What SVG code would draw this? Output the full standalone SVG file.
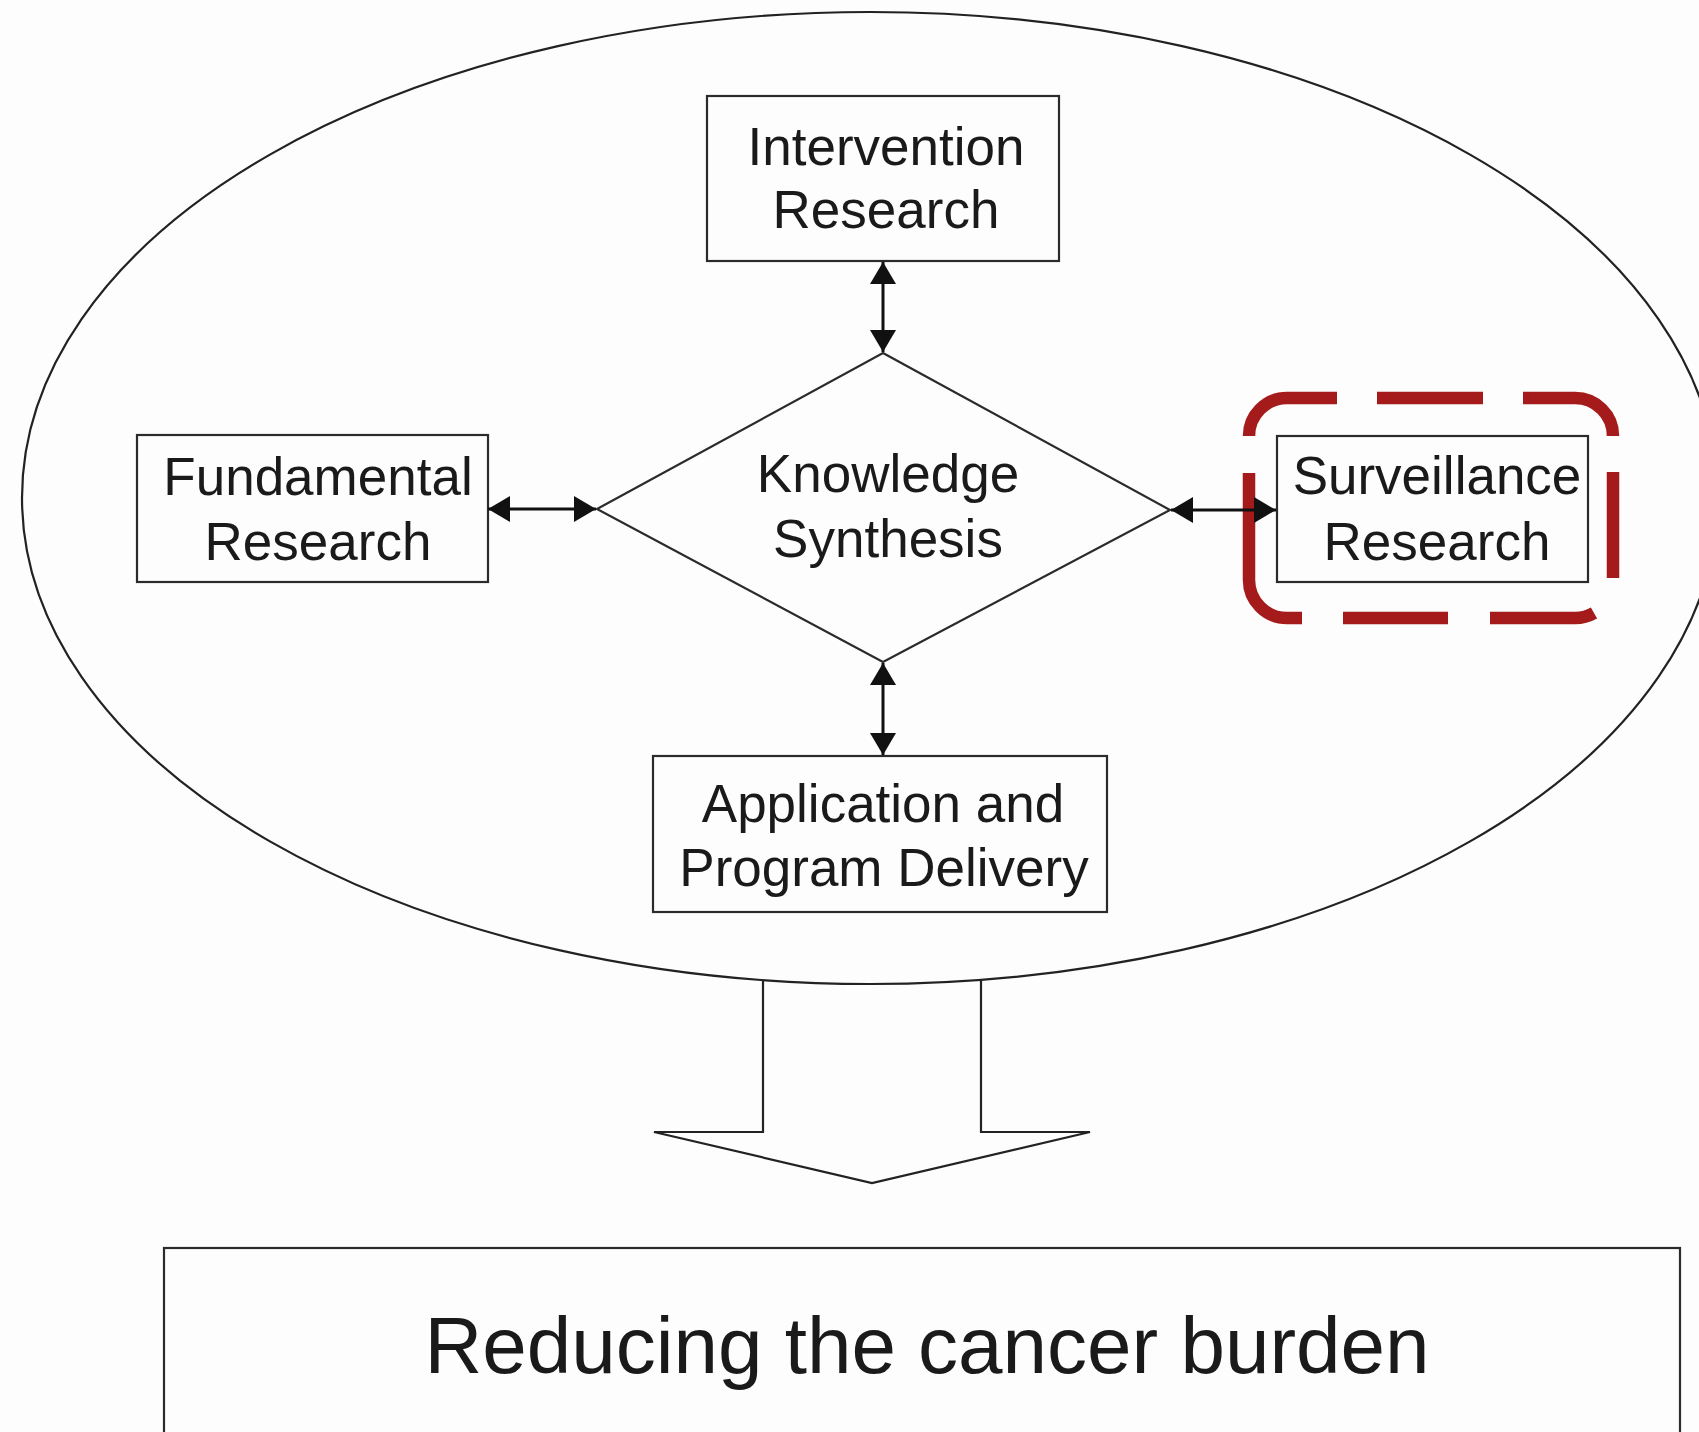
<svg xmlns="http://www.w3.org/2000/svg" width="1699" height="1432" viewBox="0 0 1699 1432">
  <style>
    .box { fill: none; stroke: #2b2b2b; stroke-width: 2.2; }
    .outline { fill: none; stroke: #222; stroke-width: 2.2; }
    .label { font-family: "Liberation Sans", Arial, sans-serif; font-size: 53px; fill: #1a1a1a; text-anchor: middle; }
    .big { font-size: 80px; }
    .link { fill: none; stroke: #111; stroke-width: 3; marker-start: url(#head); marker-end: url(#head); }
    .hl { fill: none; stroke: #a51b1b; stroke-width: 12.5; stroke-linecap: butt; }
  </style>
  <defs>
    <marker id="head" viewBox="0 0 22 26" refX="22" refY="13" markerWidth="22" markerHeight="26" markerUnits="userSpaceOnUse" orient="auto-start-reverse">
      <path d="M0,0 L22,13 L0,26 z" fill="#111"/>
    </marker>
  </defs>

  <rect width="1699" height="1432" fill="#fdfdfd"/>

  <!-- enclosing research cycle -->
  <g id="cycle">
    <ellipse class="outline" cx="870" cy="498" rx="848" ry="486"/>
  </g>

  <g id="intervention">
    <rect class="box" x="707" y="96" width="352" height="165"/>
    <text class="label" x="886" y="165">Intervention</text>
    <text class="label" x="886" y="228">Research</text>
  </g>

  <g id="fundamental">
    <rect class="box" x="137" y="435" width="351" height="147"/>
    <text class="label" x="318" y="495">Fundamental</text>
    <text class="label" x="318" y="560">Research</text>
  </g>

  <g id="knowledge">
    <path class="box" d="M883,353 L1170,510 L883,662 L597,509 Z" stroke-width="2.6"/>
    <text class="label" x="888" y="492">Knowledge</text>
    <text class="label" x="888" y="557">Synthesis</text>
  </g>

  <g id="surveillance">
    <rect class="box" x="1277" y="436" width="311" height="146"/>
    <text class="label" x="1437" y="494">Surveillance</text>
    <text class="label" x="1437" y="560">Research</text>
  </g>

  <g id="application">
    <rect class="box" x="653" y="756" width="454" height="156"/>
    <text class="label" x="883" y="822">Application and</text>
    <text class="label" x="884" y="886">Program Delivery</text>
  </g>

  <g id="outcome">
    <rect class="box" x="164" y="1248" width="1516" height="200" stroke-width="2.6"/>
    <text class="label big" x="927" y="1373">Reducing the cancer burden</text>
  </g>

  <!-- dashed highlight round the surveillance node -->
  <g id="highlight">
    <path class="hl" d="M1249,436 A38,38 0 0 1 1287,398 L1337,398"/>
    <path class="hl" d="M1377,398 L1483,398"/>
    <path class="hl" d="M1523,398 L1575,398 A38,38 0 0 1 1613,436"/>
    <path class="hl" d="M1613,472 L1613,578"/>
    <path class="hl" d="M1594,613 A38,38 0 0 1 1575,618 L1490,618"/>
    <path class="hl" d="M1448,618 L1343,618"/>
    <path class="hl" d="M1302,618 L1287,618 A38,38 0 0 1 1249,580 L1249,473"/>
  </g>

  <g id="connectors">
    <line class="link" x1="883" y1="262" x2="883" y2="352"/>
    <line class="link" x1="883" y1="663" x2="883" y2="755"/>
    <line class="link" x1="488" y1="509" x2="596" y2="509"/>
    <line class="link" x1="1171" y1="510" x2="1276" y2="510"/>
    <!-- broad outlet arrow from the cycle to the outcome -->
    <path class="outline" d="M763,981 L763,1132 L654,1132 L872,1183 L1090,1132 L981,1132 L981,980"/>
  </g>
</svg>
